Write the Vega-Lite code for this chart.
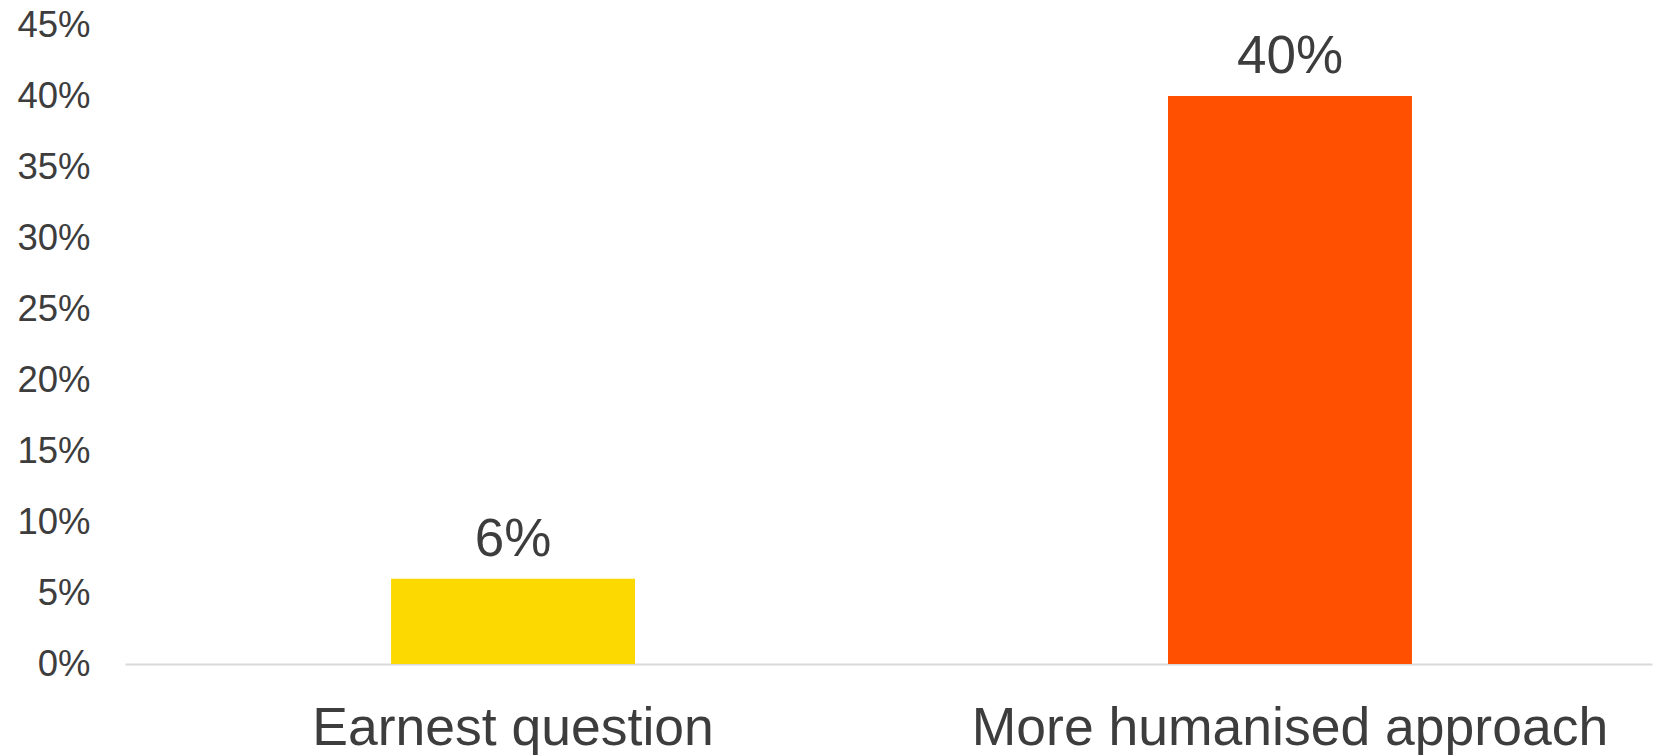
{
  "$schema": "https://vega.github.io/schema/vega-lite/v6.json",
  "autosize": "none",
  "width": 1527,
  "height": 639,
  "padding": {"left": 125, "top": 25, "right": 1, "bottom": 91},
  "background": "white",
  "config": {
    "view": {"stroke": null},
    "font": "Liberation Sans"
  },
  "data": {
    "values": [
      {"category": "Earnest question", "value": 0.06, "label": "6%"},
      {"category": "More humanised approach", "value": 0.40, "label": "40%"}
    ]
  },
  "encoding": {
    "x": {
      "field": "category",
      "type": "nominal",
      "sort": null,
      "scale": {"paddingInner": 0.686, "paddingOuter": 0.3257, "align": 0.5257},
      "axis": {
        "title": null,
        "labelAngle": 0,
        "labelFont": "Liberation Sans",
        "labelFontSize": 53.5,
        "labelColor": "#3d3d3d",
        "labelBaseline": "alphabetic",
        "labelPadding": 80,
        "labelLimit": 0,
        "labelOverlap": false,
        "labelBound": false,
        "ticks": false,
        "tickSize": 0,
        "domainColor": "#d9d9d9",
        "domainWidth": 2,
        "grid": false
      }
    },
    "y": {
      "field": "value",
      "type": "quantitative",
      "scale": {"domain": [0, 0.45], "nice": false},
      "axis": {
        "title": null,
        "format": ".0%",
        "values": [0, 0.05, 0.1, 0.15, 0.2, 0.25, 0.3, 0.35, 0.4, 0.45],
        "labelFont": "Liberation Sans",
        "labelFontSize": 36.5,
        "labelColor": "#3d3d3d",
        "labelPadding": 35,
        "labelLimit": 0,
        "ticks": false,
        "tickSize": 0,
        "domain": false,
        "grid": false
      }
    }
  },
  "layer": [
    {
      "mark": {"type": "bar"},
      "encoding": {
        "color": {
          "field": "category",
          "type": "nominal",
          "scale": {"domain": ["Earnest question", "More humanised approach"], "range": ["#FCD900", "#FE5000"]},
          "legend": null
        }
      }
    },
    {
      "mark": {"type": "text", "baseline": "alphabetic", "dy": -23, "fontSize": 53, "color": "#3d3d3d", "font": "Liberation Sans"},
      "encoding": {
        "text": {"field": "label"}
      }
    }
  ]
}
